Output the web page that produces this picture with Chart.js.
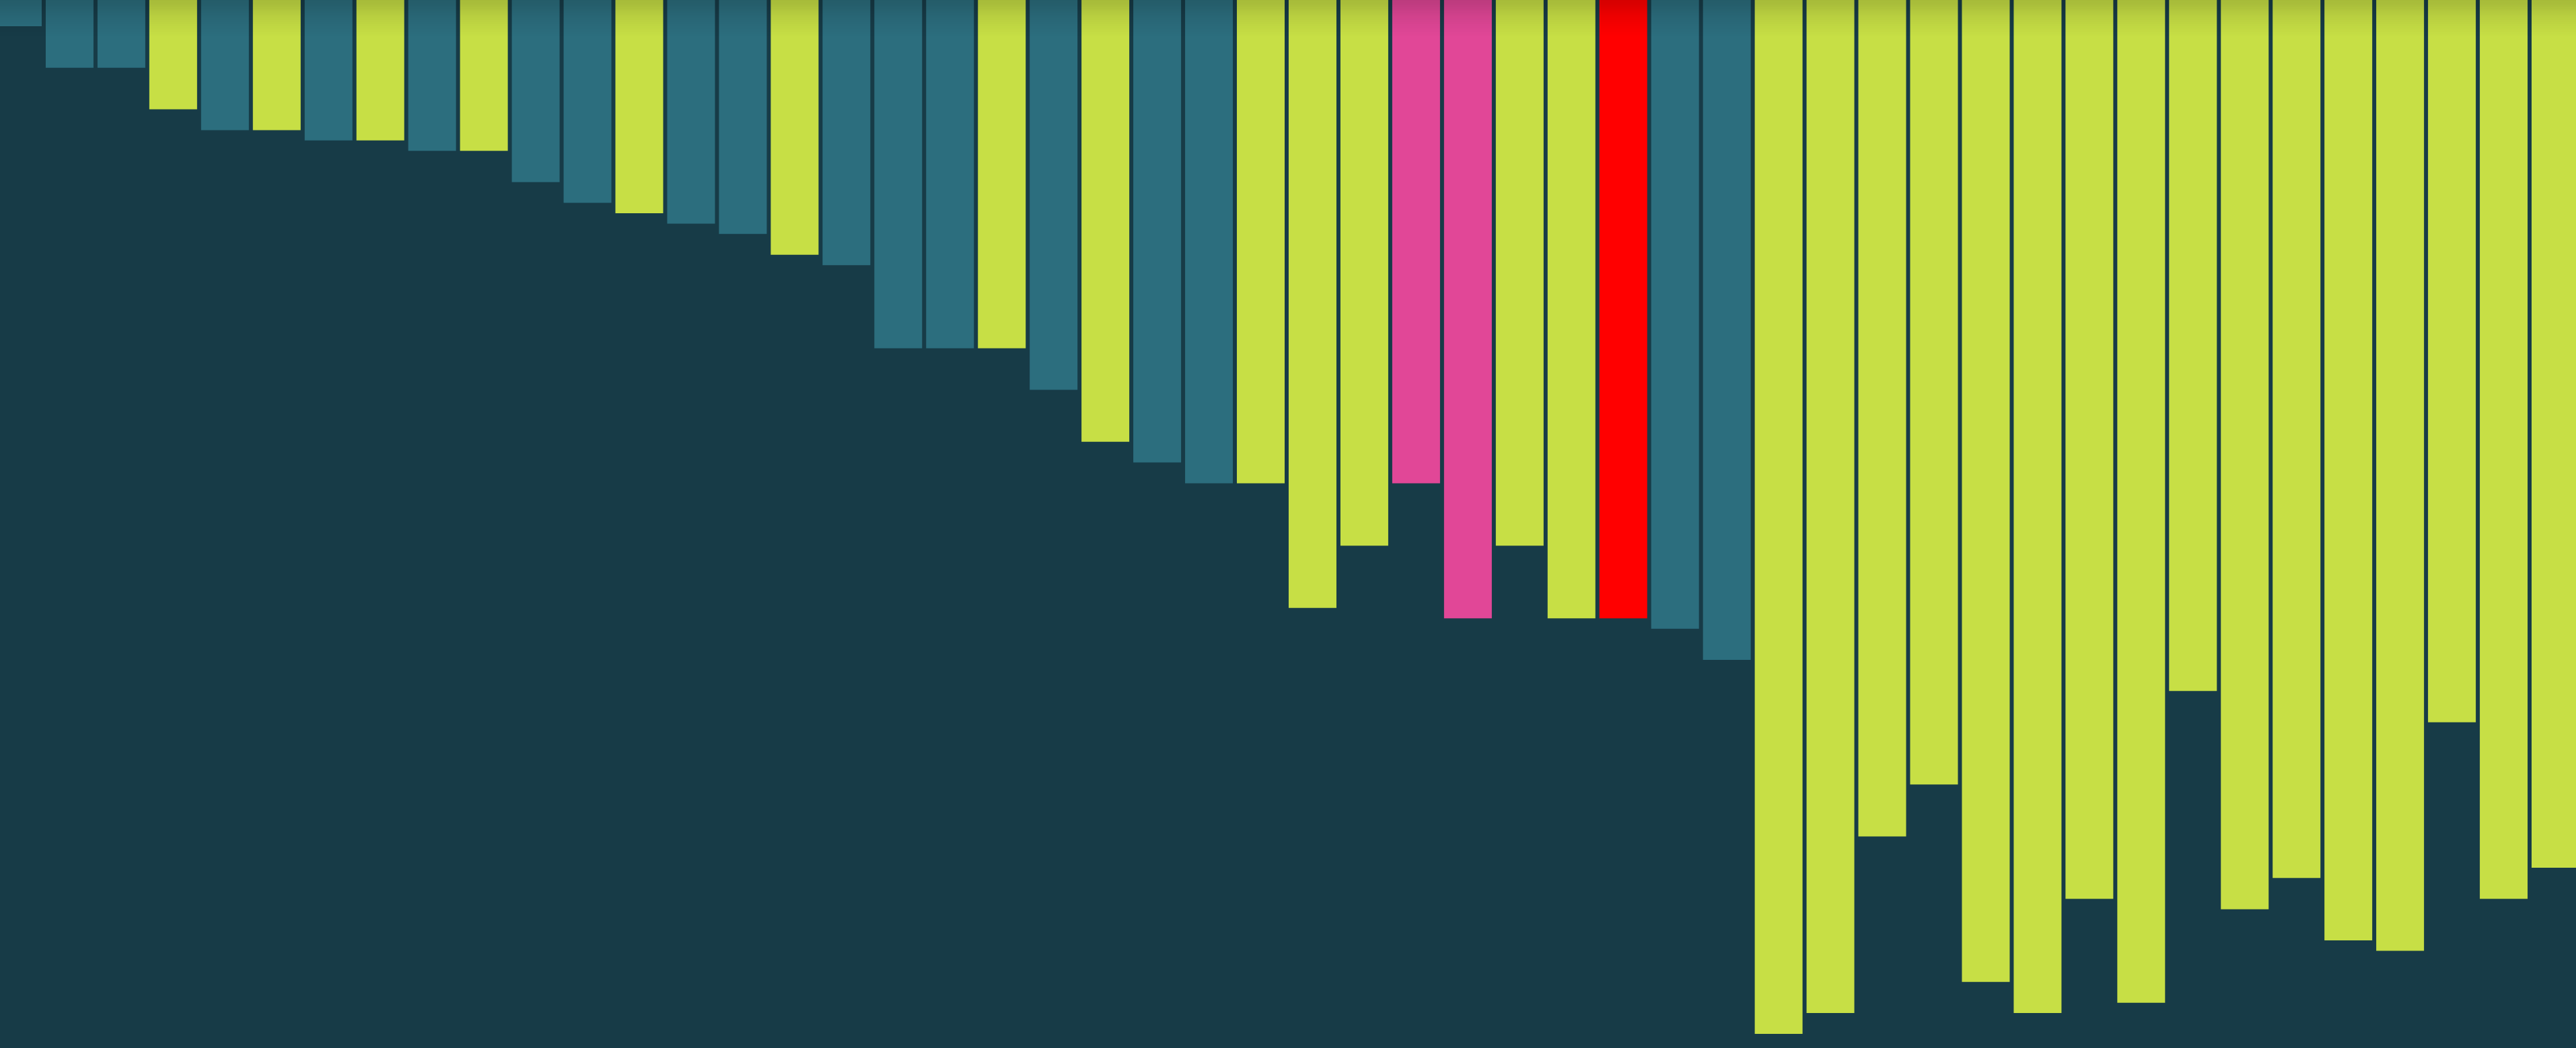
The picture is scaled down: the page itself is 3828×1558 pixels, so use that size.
<!DOCTYPE html>
<html>
<head>
<meta charset="utf-8">
<script src="https://cdn.jsdelivr.net/npm/chart.js@4/dist/chart.umd.min.js"></script>
<style>
  html, body { margin: 0; padding: 0; width: 3828px; height: 1558px; overflow: hidden; background: #173b47; }
  #wrap { position: absolute; left: -12px; top: 0; width: 3848px; height: 1558px; }
  #shade { position: absolute; left: 0; top: 0; width: 3828px; height: 60px; pointer-events: none;
    background: linear-gradient(to bottom, rgba(0,0,0,0.16) 0px, rgba(0,0,0,0.14) 8px, rgba(0,0,0,0.08) 22px, rgba(0,0,0,0.03) 40px, rgba(0,0,0,0) 55px); }
</style>
</head>
<body>
<div id="wrap"><canvas id="c" width="3848" height="1558"></canvas></div>
<div id="shade"></div>
<script>
const categories = Array.from({length: 50}, (_, i) => String(i + 1));
const values = [2, 6, 6, 10, 12, 12, 13, 13, 14, 14,
                17, 19, 20, 21, 22, 24, 25, 33, 33, 33,
                37, 42, 44, 46, 46, 58, 52, 46, 59, 52,
                59, 59, 60, 63, 99, 97, 80, 75, 94, 97,
                86, 96, 66, 87, 84, 90, 91, 69, 86, 83];
const groups = ['t','t','t','l','t','l','t','l','t','l',
                't','t','l','t','t','l','t','t','t','l',
                't','l','t','t','l','l','l','p','p','l',
                'l','r','t','t','l','l','l','l','l','l',
                'l','l','l','l','l','l','l','l','l','l'];
const palette = { t: '#2c6e7e', l: '#c7df45', p: '#e14797', r: '#ff0000' };
const yMin = -0.525, yMax = 100.36;

new Chart(document.getElementById('c'), {
  type: 'bar',
  data: {
    labels: categories,
    datasets: [{
      data: values,
      backgroundColor: groups.map(g => palette[g]),
      borderWidth: 0,
      base: yMin,
      barPercentage: 1,
      categoryPercentage: 71 / 76.96
    }]
  },
  options: {
    responsive: false,
    animation: false,
    devicePixelRatio: 1,
    layout: { padding: 0 },
    plugins: { legend: { display: false }, tooltip: { enabled: false } },
    scales: {
      x: { display: false, grid: { display: false } },
      y: { display: false, reverse: true, min: yMin, max: yMax, grid: { display: false } }
    }
  }
});
</script>
</body>
</html>
